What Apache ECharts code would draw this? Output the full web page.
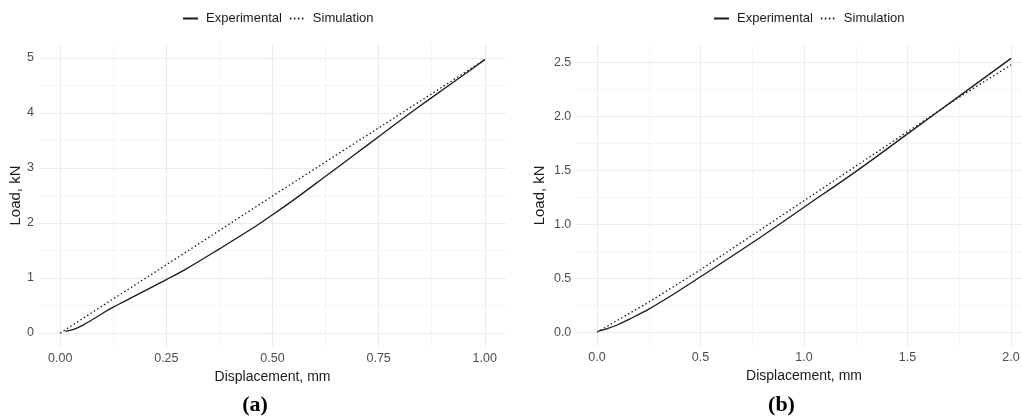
<!DOCTYPE html>
<html>
<head>
<meta charset="utf-8">
<script src="https://cdn.jsdelivr.net/npm/echarts@6/dist/echarts.min.js"></script>
<style>html,body{margin:0;padding:0;background:#fff}#c{width:1022px;height:418px}</style>
</head>
<body>
<div id="c"></div>
<script>
// ---- Panel (a) data ----
const aExpX = [0.012, 0.03, 0.05, 0.075, 0.1, 0.125, 0.15, 0.2, 0.25, 0.3, 0.375, 0.45, 0.5, 0.55, 0.625, 0.7, 0.75, 0.8, 0.875, 0.95, 1.0];
const aExpY = [0.03, 0.06, 0.13, 0.24, 0.36, 0.47, 0.57, 0.77, 0.97, 1.18, 1.53, 1.89, 2.15, 2.42, 2.85, 3.28, 3.57, 3.86, 4.28, 4.69, 4.97];
const aSimX = [0.0, 0.25, 0.5, 0.75, 1.0];
const aSimY = [0.0, 1.24, 2.49, 3.73, 4.97];
const aXTicks = [0, 0.25, 0.5, 0.75, 1.0];
const aXMinor = [0.125, 0.375, 0.625, 0.875];
const aYTicks = [0, 1, 2, 3, 4, 5];
const aYMinor = [0.5, 1.5, 2.5, 3.5, 4.5];
// ---- Panel (b) data ----
const bExpX = [0.005, 0.05, 0.1, 0.16, 0.25, 0.375, 0.5, 0.75, 1.0, 1.25, 1.5, 1.75, 2.0];
const bExpY = [0.01, 0.035, 0.07, 0.125, 0.215, 0.36, 0.515, 0.83, 1.16, 1.49, 1.84, 2.19, 2.54];
const bSimX = [0.0, 0.25, 0.5, 0.75, 1.0, 1.25, 1.5, 1.75, 2.0];
const bSimY = [0.0, 0.28, 0.58, 0.9, 1.22, 1.54, 1.86, 2.18, 2.48];
const bXTicks = [0, 0.5, 1.0, 1.5, 2.0];
const bXMinor = [0.25, 0.75, 1.25, 1.75];
const bYTicks = [0, 0.5, 1.0, 1.5, 2.0, 2.5];
const bYMinor = [0.25, 0.75, 1.25, 1.75, 2.25];
const seriesNames = ['Experimental', 'Simulation'];
const xTitle = 'Displacement, mm';
const yTitle = 'Load, kN';
const captions = ['(a)', '(b)'];

const FONT = 'Liberation Sans, Arial, sans-serif';
const MAJOR = { show: true, lineStyle: { color: '#ebebeb', width: 1.1 } };
const MINOR = { show: true, lineStyle: { color: '#f3f3f3', width: 0.8 } };
const zip = (xs, ys) => xs.map((x, i) => [x, ys[i]]);

function mainAxis(grid, min, max, ticks, digits, isX, nameGap) {
  return {
    type: 'value', gridIndex: grid, min: min, max: max, position: isX ? 'bottom' : 'left',
    name: isX ? xTitle : yTitle, nameLocation: 'middle', nameGap: nameGap,
    nameTextStyle: { color: '#1a1a1a', fontSize: isX ? 14 : 15, fontFamily: FONT },
    axisLine: { show: false }, axisTick: { show: false, customValues: ticks },
    axisLabel: { customValues: ticks, color: '#4d4d4d', fontSize: 12.5, fontFamily: FONT, margin: 5,
      formatter: v => Number(v).toFixed(digits) },
    splitLine: MAJOR
  };
}
function minorAxis(grid, min, max, ticks, isX) {
  return {
    type: 'value', gridIndex: grid, min: min, max: max, position: isX ? 'top' : 'right',
    axisLine: { show: false }, axisTick: { show: false, customValues: ticks },
    axisLabel: { show: false, customValues: ticks }, splitLine: MINOR
  };
}
const lineSeries = (name, xi, yi, data, dotted) => ({
  name: name, type: 'line', xAxisIndex: xi, yAxisIndex: yi, data: data,
  symbol: 'none', showSymbol: false, smooth: dotted ? false : 0.35, z: 5,
  lineStyle: { color: '#1a1a1a', width: 1.3, type: dotted ? [1.5, 2.5] : 'solid' },
  itemStyle: { color: '#1a1a1a' }
});
const legendBase = (left) => ({
  data: seriesNames, left: left, top: 12, padding: 0, itemWidth: 15, itemHeight: 14, itemGap: 7,
  itemStyle: { opacity: 0, color: 'transparent', borderWidth: 0 },
  textStyle: { color: '#1a1a1a', fontSize: 13, fontFamily: FONT, padding: [0, 0, 0, 3] }
});

const option = {
  animation: false,
  backgroundColor: '#fff',
  grid: [
    { left: 39, top: 44.25, width: 467, height: 302.5, containLabel: false, outerBoundsMode: 'none' },
    { left: 576.3, top: 44.7, width: 455.4, height: 301.3, containLabel: false, outerBoundsMode: 'none' }
  ],
  xAxis: [
    minorAxis(0, -0.05, 1.05, aXMinor, true),
    mainAxis(0, -0.05, 1.05, aXTicks, 2, true, 14),
    minorAxis(1, -0.1, 2.1, bXMinor, true),
    mainAxis(1, -0.1, 2.1, bXTicks, 1, true, 14)
  ],
  yAxis: [
    minorAxis(0, -0.25, 5.25, aYMinor, false),
    mainAxis(0, -0.25, 5.25, aYTicks, 0, false, 13),
    minorAxis(1, -0.127, 2.667, bYMinor, false),
    mainAxis(1, -0.127, 2.667, bYTicks, 1, false, 29)
  ],
  legend: [legendBase(182), legendBase(713)],
  series: [
    lineSeries(seriesNames[0], 1, 1, zip(aExpX, aExpY), false),
    lineSeries(seriesNames[1], 1, 1, zip(aSimX, aSimY), true),
    lineSeries(seriesNames[0], 3, 3, zip(bExpX, bExpY), false),
    lineSeries(seriesNames[1], 3, 3, zip(bSimX, bSimY), true)
  ],
  graphic: [
    { type: 'text', x: 255, y: 405, style: { text: captions[0], x: 0, y: 0, align: 'center', verticalAlign: 'middle',
      font: 'bold 22px "Liberation Serif", "DejaVu Serif", serif', fill: '#000' } },
    { type: 'text', x: 781.5, y: 405, style: { text: captions[1], x: 0, y: 0, align: 'center', verticalAlign: 'middle',
      font: 'bold 22px "Liberation Serif", "DejaVu Serif", serif', fill: '#000' } }
  ]
};
const chart = echarts.init(document.getElementById('c'), null, { renderer: 'canvas' });
chart.setOption(option);
</script>
</body>
</html>
